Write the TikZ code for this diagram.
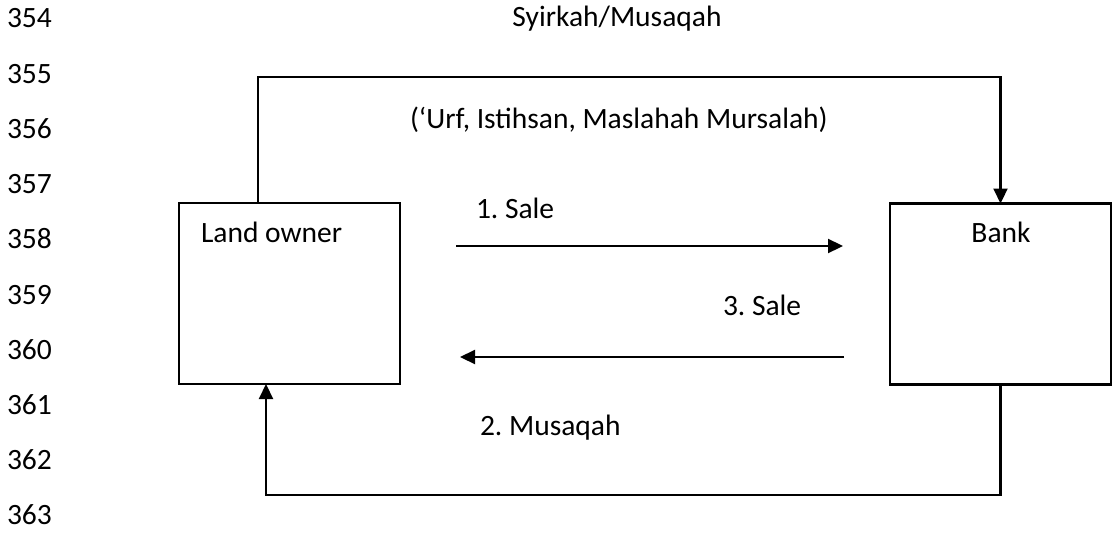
\documentclass[tikz,border=0pt]{standalone}
\usepackage{fontspec}
\setmainfont{Carlito}
\usetikzlibrary{arrows.meta}
\frenchspacing
\begin{document}
\begin{tikzpicture}[x=1pt,y=-1pt,
  every node/.style={inner sep=0pt,outer sep=0pt,font=\fontsize{29.5}{35}\selectfont},
  party/.style={draw,line width=2.2pt,rectangle,minimum width=221pt,minimum height=181pt},
  conn/.style={line width=2.2pt},
  arr/.style={conn,-{Triangle[length=15pt,width=14pt]}},
  lbl/.style={anchor=base west}]
\useasboundingbox (0,0) rectangle (1118,535);
% line numbers
\foreach \n [count=\i from 0] in {354,...,363}
  \node[lbl] (ln\n) at (7,{28+55.2*\i}) {\n};
% boxes
\node[party] (lo) at (289.5,293.5) {};
\node[party] (bk) at (1000.5,294) {};
\node[lbl] (lotxt) at (201,242) {Land owner};
\node[anchor=base] (bktxt) at (1001,242) {Bank};
% texts
\node[anchor=base] (title) at (617,27) {Syirkah/Musaqah};
\node[lbl] (basis) at (410,128) {(‘Urf, Istihsan, Maslahah Mursalah)};
\node[lbl] (sale1) at (476,218) {1.~Sale};
\node[lbl] (sale3) at (723,315) {3.~Sale};
\node[lbl] (musa) at (480,435) {2.~Musaqah};
% connectors
\coordinate (t1) at (258,77);
\draw[arr] (lo.north -| t1) -- (t1) -| (bk.north);
\coordinate (b1) at (266,495);
\draw[arr] (bk.south) |- (b1) -- (lo.south -| b1);
\coordinate (s1a) at (456,246);
\coordinate (s1b) at (843,246);
\draw[arr] (s1a) -- (s1b);
\coordinate (s3a) at (844,357);
\coordinate (s3b) at (460,357);
\draw[arr] (s3a) -- (s3b);
\end{tikzpicture}
\end{document}
